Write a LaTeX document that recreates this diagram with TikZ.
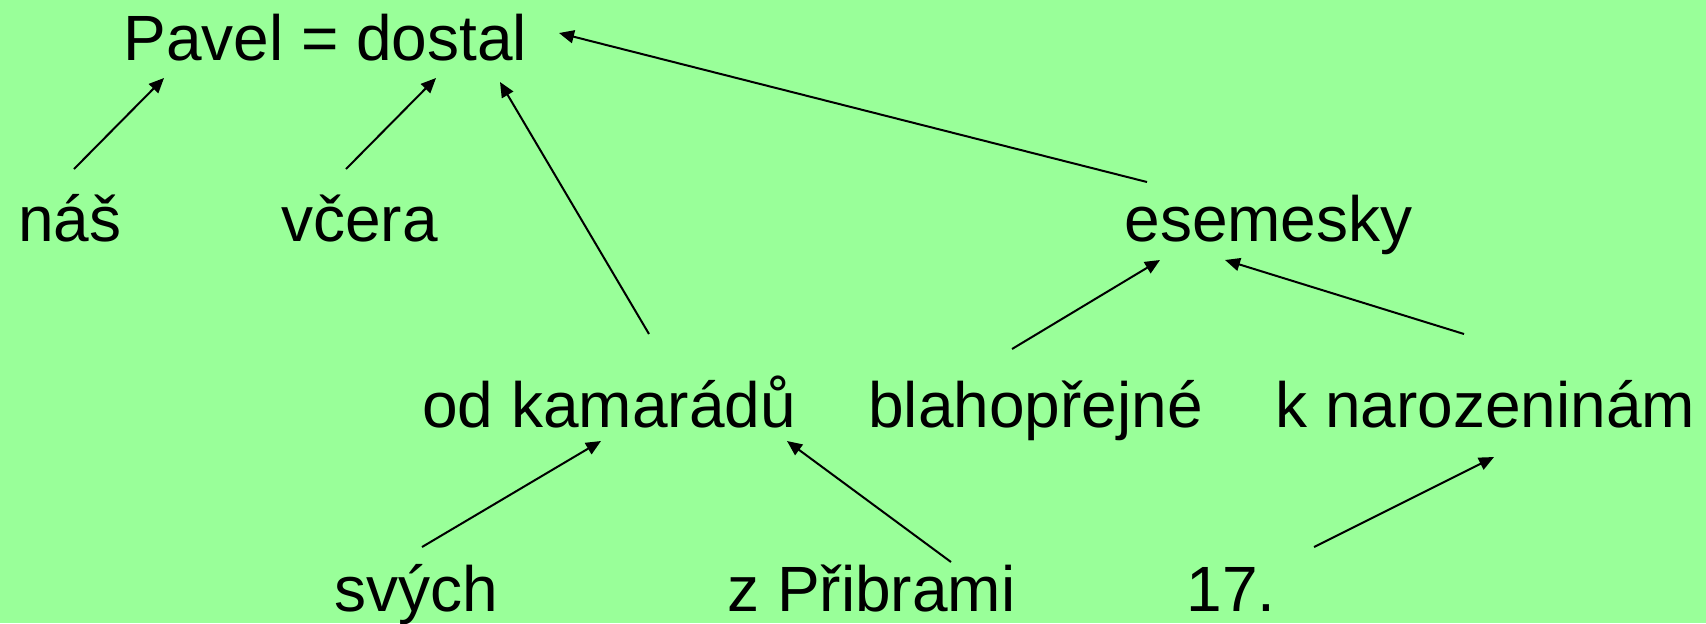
\documentclass[tikz,border=0pt]{standalone}
\usepackage{fontspec}
\setmainfont{Liberation Sans}
\usetikzlibrary{arrows.meta}
\definecolor{bggreen}{RGB}{153,255,153}
\tikzset{
  word/.style={anchor=base west, inner sep=0pt, font=\fontsize{32}{38}\selectfont},
  dep/.style={line width=1pt, -{Triangle[length=7.5pt,width=6.5pt]}}
}
\begin{document}
\begin{tikzpicture}[x=0.5pt,y=-0.5pt]
\fill[bggreen] (0,0) rectangle (1706,623);
\useasboundingbox (0,0) rectangle (1706,623);
% words
\node[word] (pavel) at (123,60) {Pavel = dostal};
\node[word] (nas) at (18,241) {náš};
\node[word] (vcera) at (281,241) {včera};
\node[word] (esemesky) at (1124,241) {esemesky};
\node[word] (kamaradu) at (422,427) {od kamarádů};
\node[word] (blaho) at (868,427) {blahopřejné};
\node[word] (naroz) at (1275,427) {k narozeninám};
\node[word] (svych) at (334,611) {svých};
\node[word] (pribram) at (727,611) {z Přibrami};
\node[word] (sedm) at (1186,611) {17.};
% connector ends
\coordinate (nasS) at (74,169);      \coordinate (nasT) at (164,78);
\coordinate (vceraS) at (346,169);   \coordinate (vceraT) at (436,78);
\coordinate (kamS) at (649,334);     \coordinate (kamT) at (500,82);
\coordinate (eseS) at (1147,182);    \coordinate (eseT) at (559,33);
\coordinate (blahoS) at (1012,349);  \coordinate (blahoT) at (1160,260);
\coordinate (narS) at (1464,334);    \coordinate (narT) at (1225,260);
\coordinate (svychS) at (422,547);   \coordinate (svychT) at (601,441);
\coordinate (pribS) at (951,562);    \coordinate (pribT) at (787,441);
\coordinate (sedmS) at (1314,547);   \coordinate (sedmT) at (1494,457);
% connectors
\draw[dep] (nasS) -- (nasT);
\draw[dep] (vceraS) -- (vceraT);
\draw[dep] (kamS) -- (kamT);
\draw[dep] (eseS) -- (eseT);
\draw[dep] (blahoS) -- (blahoT);
\draw[dep] (narS) -- (narT);
\draw[dep] (svychS) -- (svychT);
\draw[dep] (pribS) -- (pribT);
\draw[dep] (sedmS) -- (sedmT);
\end{tikzpicture}
\end{document}
